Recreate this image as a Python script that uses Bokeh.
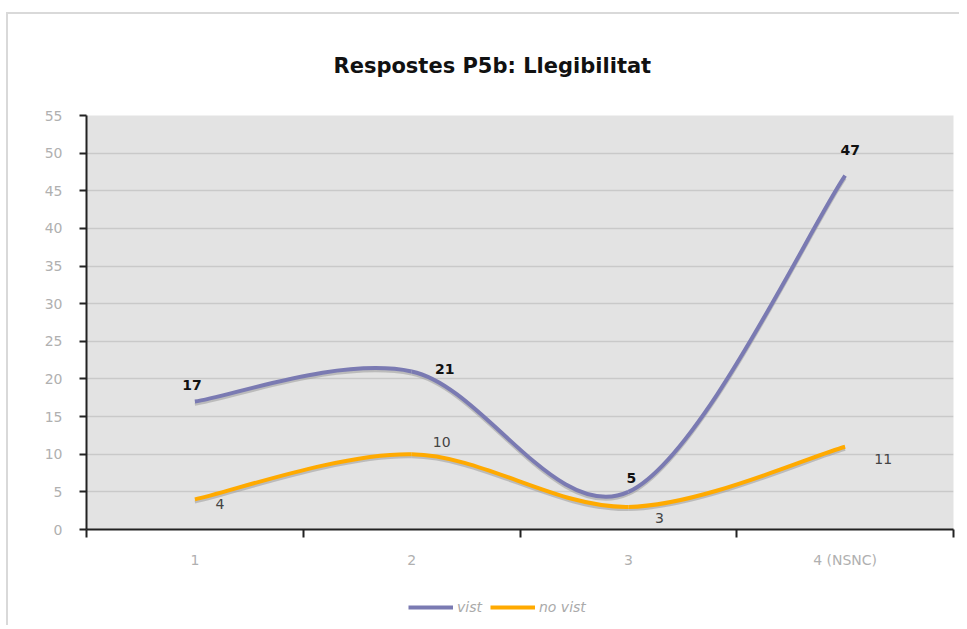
from bokeh.plotting import figure
from bokeh.layouts import column
from bokeh.models import (Range1d, FixedTicker, Legend, LegendItem, ColumnDataSource)
from bokeh.core.properties import value
from bokeh.embed import file_html
from bokeh.resources import INLINE

# ---- data ----
categories = ["1", "2", "3", "4 (NSNC)"]
series_names = ["vist", "no vist"]
vist = [17, 21, 5, 47]
no_vist = [4, 10, 3, 11]
y_ticks = list(range(0, 56, 5))
title_text = "Respostes P5b: Llegibilitat"

# ---- label offsets (style, screen px) ----
vist_dx = [-3, 33, 3, 5]
vist_dy = [-17, -2, -14, -26]
nov_dx = [25, 30, 31, 38]
nov_dy = [5, -12, 11, 12]

COLORS = ["#7a7ab2", "#ffaa00"]
xs = list(range(1, len(categories) + 1))

FONT = "DejaVu Sans"

p = figure(width=951, height=556, output_backend="svg", toolbar_location=None,
           x_range=Range1d(0.5, len(categories) + 0.5), y_range=Range1d(0, 55),
           min_border_left=78, min_border_right=6, min_border_top=101,
           min_border_bottom=40)
p.background_fill_color = "#e3e3e3"
p.border_fill_color = "white"
p.outline_line_color = None
p.xgrid.grid_line_color = None
p.ygrid.grid_line_color = "#c9c9c9"
p.ygrid.grid_line_width = 1.5
p.ygrid.ticker = FixedTicker(ticks=y_ticks)

p.title.text = title_text
p.title.align = "left"
p.title.offset = 247
p.title.standoff = 75
p.title.text_font = FONT
p.title.text_font_style = "bold"
p.title.text_font_size = "21px"
p.title.text_color = "#111111"

# axes
p.yaxis.ticker = FixedTicker(ticks=y_ticks)
p.yaxis.axis_line_color = "#222222"
p.yaxis.axis_line_width = 2
p.yaxis.major_tick_line_color = "#222222"
p.yaxis.major_tick_line_width = 2
p.yaxis.major_tick_out = 7
p.yaxis.major_tick_in = 0
p.yaxis.minor_tick_line_color = None
p.yaxis.major_label_text_color = "#b0b0b0"
p.yaxis.major_label_text_font = FONT
p.yaxis.major_label_text_font_size = "14px"
p.yaxis.major_label_standoff = 17

p.xaxis.ticker = FixedTicker(ticks=xs, minor_ticks=[x - 0.5 for x in xs] + [xs[-1] + 0.5])
p.xaxis.major_label_overrides = {x: c for x, c in zip(xs, categories)}
p.xaxis.axis_line_color = "#222222"
p.xaxis.axis_line_width = 2
p.xaxis.major_tick_line_color = None
p.xaxis.minor_tick_line_color = "#222222"
p.xaxis.minor_tick_line_width = 2
p.xaxis.minor_tick_in = 0
p.xaxis.minor_tick_out = 8
p.xaxis.major_tick_out = 8
p.xaxis.major_label_text_color = "#b0b0b0"
p.xaxis.major_label_text_font = FONT
p.xaxis.major_label_text_font_size = "14px"
p.xaxis.major_label_standoff = 14


def bezier_source(ys):
    n = len(ys)
    x0, y0, x1, y1, cx0, cy0, cx1, cy1 = [], [], [], [], [], [], [], []
    for i in range(n - 1):
        pm = (xs[max(i - 1, 0)], ys[max(i - 1, 0)])
        pa = (xs[i], ys[i])
        pb = (xs[i + 1], ys[i + 1])
        pn = (xs[min(i + 2, n - 1)], ys[min(i + 2, n - 1)])
        x0.append(pa[0]); y0.append(pa[1])
        x1.append(pb[0]); y1.append(pb[1])
        cx0.append(pa[0] + (pb[0] - pm[0]) / 6); cy0.append(pa[1] + (pb[1] - pm[1]) / 6)
        cx1.append(pb[0] - (pn[0] - pa[0]) / 6); cy1.append(pb[1] - (pn[1] - pa[1]) / 6)
    return dict(x0=x0, y0=y0, x1=x1, y1=y1, cx0=cx0, cy0=cy0, cx1=cx1, cy1=cy1)


def shadow_source(src, dy):
    return {k: ([v - dy for v in vals] if k.startswith(("y", "cy")) else vals)
            for k, vals in src.items()}


for ys, color in zip([vist, no_vist], COLORS):
    src = bezier_source(ys)
    p.bezier(source=ColumnDataSource(shadow_source(src, 0.35)), x0="x0", y0="y0", x1="x1", y1="y1",
             cx0="cx0", cy0="cy0", cx1="cx1", cy1="cy1",
             line_color="#9a9a9a", line_width=3, line_alpha=0.55)
    p.bezier(source=ColumnDataSource(src), x0="x0", y0="y0", x1="x1", y1="y1",
             cx0="cx0", cy0="cy0", cx1="cx1", cy1="cy1",
             line_color=color, line_width=4)

# data labels
p.text(x=xs, y=vist, text=[str(v) for v in vist], x_offset=vist_dx, y_offset=vist_dy,
       text_font=value(FONT), text_font_style="bold", text_font_size="14px",
       text_color="#111111", text_align="center", text_baseline="middle")
p.text(x=xs, y=no_vist, text=[str(v) for v in no_vist], x_offset=nov_dx, y_offset=nov_dy,
       text_font=value(FONT), text_font_size="14px",
       text_color="#444444", text_align="center", text_baseline="middle")

# ---- legend strip below the chart (series lines lie outside its view) ----
lf = figure(width=951, height=55, output_backend="svg", toolbar_location=None,
            x_range=Range1d(-2, -1), y_range=Range1d(-2, -1),
            x_axis_type=None, y_axis_type=None,
            min_border_left=0, min_border_right=0, min_border_top=0, min_border_bottom=0)
lf.outline_line_color = None
lf.background_fill_color = "white"
lf.border_fill_color = "white"
items = []
for name, ys, color in zip(series_names, [vist, no_vist], COLORS):
    r = lf.line(x=xs, y=ys, line_color=color, line_width=4)
    items.append(LegendItem(label=name, renderers=[r]))
legend = Legend(items=items, orientation="horizontal", location=(322, 10),
                background_fill_alpha=0, border_line_color=None,
                label_text_font=FONT, label_text_font_style="italic",
                label_text_font_size="14px", label_text_color="#aaaaaa",
                glyph_width=45, glyph_height=14, label_standoff=4, spacing=8,
                padding=0, margin=0)
lf.add_layout(legend, "center")

layout = column(p, lf, spacing=0,
                styles={"margin-left": "6px", "margin-top": "12px",
                        "border-left": "2px solid #d9d9d9",
                        "border-top": "2px solid #d9d9d9"})

open("out.html", "w").write(file_html(layout, INLINE))
